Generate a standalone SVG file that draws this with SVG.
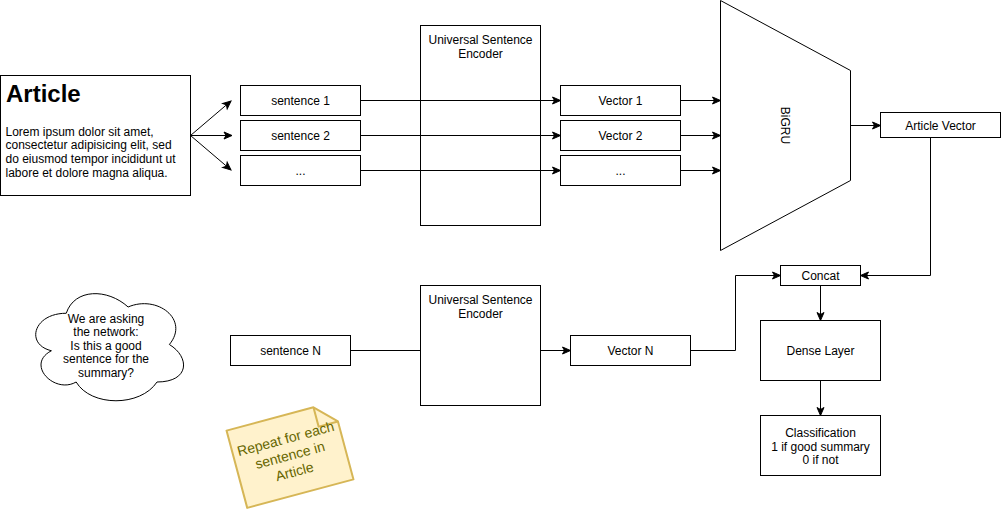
<svg xmlns="http://www.w3.org/2000/svg" width="1001" height="510" viewBox="0 0 1001 510">
<style>
.box{fill:#ffffff;stroke:#000000;stroke-width:1}
.t{font-family:"Liberation Sans",Arial,Helvetica,sans-serif;font-size:12px;fill:#000000}
.c{text-anchor:middle}
.edge{fill:none;stroke:#000000;stroke-width:1}
</style>
<defs>
<marker id="arr" markerUnits="userSpaceOnUse" markerWidth="10" markerHeight="10" viewBox="0 0 10 10" refX="9" refY="5" orient="auto">
<path d="M1,1.5 L9,5 L1,8.5 L3,5 Z" fill="#000000" stroke="#000000" stroke-width="1"/>
</marker>
</defs>
<rect width="1001" height="510" fill="#ffffff"/>

<g id="edges">
<path class="edge" d="M190.5,135.5 L231,101" marker-end="url(#arr)"/>
<path class="edge" d="M190.5,135.5 L232,135.5" marker-end="url(#arr)"/>
<path class="edge" d="M190.5,135.5 L231,170" marker-end="url(#arr)"/>
<path class="edge" d="M360.5,100.5 H560.5" marker-end="url(#arr)"/>
<path class="edge" d="M360.5,135.5 H560.5" marker-end="url(#arr)"/>
<path class="edge" d="M360.5,170.5 H560.5" marker-end="url(#arr)"/>
<path class="edge" d="M680.5,100.5 H720.5" marker-end="url(#arr)"/>
<path class="edge" d="M680.5,135.5 H720.5" marker-end="url(#arr)"/>
<path class="edge" d="M680.5,170.5 H720.5" marker-end="url(#arr)"/>
<path class="edge" d="M850.5,125.5 H880.5" marker-end="url(#arr)"/>
<path class="edge" d="M930.5,137.5 V275.5 H860.5" marker-end="url(#arr)"/>
<path class="edge" d="M690.5,350.5 H735.5 V275.5 H780.5" marker-end="url(#arr)"/>
<path class="edge" d="M820.5,285.5 V320.5" marker-end="url(#arr)"/>
<path class="edge" d="M820.5,380.5 V415.5" marker-end="url(#arr)"/>
<path class="edge" d="M350.5,350.5 H420.5"/>
<path class="edge" d="M540.5,350.5 H570.5" marker-end="url(#arr)"/>
</g>

<g id="article">
<rect class="box" x="0.5" y="75.5" width="190" height="120"/>
<text x="6" y="102" font-family="'Liberation Sans',Arial,Helvetica,sans-serif" font-size="24" font-weight="bold" fill="#000000">Article</text>
<text class="t" x="5.5" y="135.5">Lorem ipsum dolor sit amet,</text>
<text class="t" x="5.5" y="149.2">consectetur adipisicing elit, sed</text>
<text class="t" x="5.5" y="162.9">do eiusmod tempor incididunt ut</text>
<text class="t" x="5.5" y="176.6">labore et dolore magna aliqua.</text>
</g>

<g id="sentence1">
<rect class="box" x="240.5" y="85.5" width="120" height="30"/>
<text class="t c" x="300.5" y="104.8">sentence 1</text>
</g>
<g id="sentence2">
<rect class="box" x="240.5" y="120.5" width="120" height="30"/>
<text class="t c" x="300.5" y="139.8">sentence 2</text>
</g>
<g id="sentence3">
<rect class="box" x="240.5" y="155.5" width="120" height="30"/>
<text class="t c" x="300.5" y="174.8">...</text>
</g>

<g id="use1" fill="none">
<rect class="box" x="420.5" y="25.5" width="120" height="200" fill-opacity="0" style="fill:none"/>
<text class="t c" x="480.5" y="43.5">Universal Sentence</text>
<text class="t c" x="480.5" y="57.5">Encoder</text>
</g>

<g id="vector1">
<rect class="box" x="560.5" y="85.5" width="120" height="30"/>
<text class="t c" x="620.5" y="104.8">Vector 1</text>
</g>
<g id="vector2">
<rect class="box" x="560.5" y="120.5" width="120" height="30"/>
<text class="t c" x="620.5" y="139.8">Vector 2</text>
</g>
<g id="vector3">
<rect class="box" x="560.5" y="155.5" width="120" height="30"/>
<text class="t c" x="620.5" y="174.8">...</text>
</g>

<g id="bigru">
<path class="box" d="M720.5,0.5 L850.5,70.5 L850.5,180.5 L720.5,250.5 Z"/>
<text class="t c" x="0" y="0" transform="translate(781,125.5) rotate(90)">BiGRU</text>
</g>

<g id="articlevector">
<rect class="box" x="880.5" y="112.5" width="120" height="25"/>
<text class="t c" x="940.5" y="129.5">Article Vector</text>
</g>

<g id="concat">
<rect class="box" x="780.5" y="265.5" width="80" height="20"/>
<text class="t c" x="820.5" y="280">Concat</text>
</g>

<g id="dense">
<rect class="box" x="760.5" y="320.5" width="120" height="60"/>
<text class="t c" x="820.5" y="355">Dense Layer</text>
</g>

<g id="classification">
<rect class="box" x="760.5" y="415.5" width="120" height="60"/>
<text class="t c" x="820.5" y="437">Classification</text>
<text class="t c" x="820.5" y="450.5">1 if good summary</text>
<text class="t c" x="820.5" y="464">0 if not</text>
</g>

<g id="sentenceN">
<rect class="box" x="230.5" y="335.5" width="120" height="30"/>
<text class="t c" x="290.5" y="354.8">sentence N</text>
</g>

<g id="use2">
<rect class="box" x="420.5" y="285.5" width="120" height="120" style="fill:none"/>
<text class="t c" x="480.5" y="303.5">Universal Sentence</text>
<text class="t c" x="480.5" y="317.5">Encoder</text>
</g>

<g id="vectorN">
<rect class="box" x="570.5" y="335.5" width="120" height="30"/>
<text class="t c" x="630.5" y="354.8">Vector N</text>
</g>

<g id="cloud">
<path class="box" d="M66.25,313.25 C33.25,313.25 25,344.5 51.4,350.75 C25,364.5 54.7,394.5 76.15,382 C91,407 140.5,407 157,382 C190,382 190,357 169.375,344.5 C190,319.5 157,294.5 128.125,307 C107.5,288.25 74.5,288.25 66.25,313.25 Z"/>
<text class="t c" x="106" y="322.5">We are asking</text>
<text class="t c" x="106" y="336">the network:</text>
<text class="t c" x="106" y="349.8">Is this a good</text>
<text class="t c" x="106" y="363.3">sentence for the</text>
<text class="t c" x="106" y="377">summary?</text>
</g>

<g id="note" transform="rotate(-15 290 455)">
<path d="M235,415 H325 L345,435 V495 H235 Z" fill="#fff2cc" stroke="#d6b656" stroke-width="2" stroke-linejoin="round"/>
<path d="M325,415 V435 H345" fill="none" stroke="#d6b656" stroke-width="2" stroke-linejoin="round"/>
<text x="290" y="443" text-anchor="middle" font-family="'Liberation Sans',Arial,Helvetica,sans-serif" font-size="14" fill="#666600">Repeat for each</text>
<text x="290" y="460" text-anchor="middle" font-family="'Liberation Sans',Arial,Helvetica,sans-serif" font-size="14" fill="#666600">sentence in</text>
<text x="290" y="477" text-anchor="middle" font-family="'Liberation Sans',Arial,Helvetica,sans-serif" font-size="14" fill="#666600">Article</text>
</g>
</svg>
